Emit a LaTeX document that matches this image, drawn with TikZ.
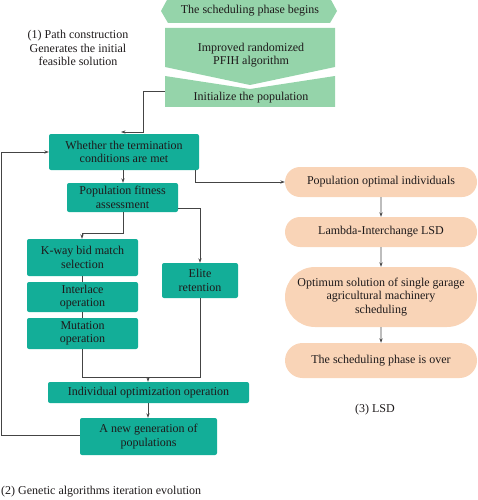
\documentclass[tikz,border=0pt]{standalone}
\usepackage{fontspec}
\setmainfont{Liberation Serif}
\usetikzlibrary{arrows.meta,shapes.misc}
\definecolor{teal1}{HTML}{13AE98}
\definecolor{green1}{HTML}{95D4AA}
\definecolor{peach}{HTML}{F9D4B7}
\definecolor{ink}{HTML}{1E1A1B}
\definecolor{wire}{HTML}{444444}
\tikzset{
  txt/.style={font=\fontsize{12}{13.4}\selectfont, text=ink, align=center, inner sep=0pt},
  tbox/.style={txt, fill=teal1, rounded corners=2pt, minimum width=#1},
  pbox/.style={txt, fill=peach, rounded rectangle, minimum width=192pt},
  conn/.style={draw=wire, line width=0.7pt},
  arr/.style={conn, -{Stealth[length=4.5pt,width=3.2pt]}},
}
\begin{document}
\begin{tikzpicture}[x=1pt,y=-1pt]
\useasboundingbox (0,0) rectangle (478,500);
% top green shapes
\fill[green1] (168,-2) -- (161,11) -- (168,23) -- (330,23) -- (337,11) -- (330,-2) -- cycle;
\node[txt] (begin) at (250,11) {The scheduling phase begins};
\fill[green1] (165,28) -- (335,28) -- (335,67) -- (250,85) -- (165,67) -- cycle;
\node[txt] (pfih) at (251,55) {Improved randomized\\PFIH algorithm};
\fill[green1] (165,76) -- (250,89) -- (335,76) -- (335,107) -- (165,107) -- cycle;
\coordinate (initw) at (165,91);
\node[txt] (init) at (251,98) {Initialize the population};
% label 1
\node[txt] (lab1) at (78,48) {(1) Path construction\\Generates the initial\\feasible solution};
% teal boxes
\node[tbox=150pt, minimum height=36pt] (whether) at (124,152) {Whether the termination\\conditions are met};
\node[tbox=111pt, minimum height=29pt] (fitness) at (122.5,197.5) {Population fitness\\assessment};
\node[tbox=111pt, minimum height=37pt] (kway) at (82.5,257.5) {K-way bid match\\selection};
\node[tbox=111pt, minimum height=30pt] (inter) at (82.5,297) {Interlace\\operation};
\node[tbox=111pt, minimum height=31pt] (mut) at (82.5,333.5) {Mutation\\operation};
\node[tbox=76pt, minimum height=35pt] (elite) at (200,280.5) {Elite\\retention};
\node[tbox=201pt, minimum height=21pt] (indiv) at (148.5,392.5) {Individual optimization operation};
\node[tbox=137pt, minimum height=37pt] (newgen) at (148.5,436.5) {A new generation of\\populations};
% peach boxes
\node[pbox, minimum height=30pt] (popopt) at (381,182) {Population optimal individuals};
\node[pbox, minimum height=30pt] (lambda) at (381,232) {Lambda-Interchange LSD};
\node[pbox, minimum height=60pt] (optimum) at (381,297) {Optimum solution of single garage\\agricultural machinery\\scheduling};
\node[pbox, minimum height=35pt] (over) at (381,360.5) {The scheduling phase is over};
% labels
\node[txt, anchor=west] (lab2) at (1,492) {(2) Genetic algorithms iteration evolution};
\node[txt] (lab3) at (375,410) {(3) LSD};
% connectors
\coordinate (inite) at (121,132);
\draw[arr] (initw) -| (143,132) -- (inite);
\draw[arr] (newgen.west |- 0,435) -- (1,435) |- (whether.west);
\draw[arr] (whether.south -| 123,0) -- (fitness.north -| 123,0);
\draw[arr] (whether.south -| 195,0) |- (popopt.west);
\draw[arr] (fitness.south -| 123,0) |- (82,233) -- (kway.north -| 82,0);
\draw[arr] (fitness.east |- 0,208) -| (elite.north);
\draw[conn] (kway.south -| 82,0) -- (inter.north -| 82,0);
\draw[conn] (inter.south -| 82,0) -- (mut.north -| 82,0);
\draw[conn] (mut.south -| 82,0) |- (200,377) -- (elite.south);
\draw[arr] (148,377) -- (indiv.north -| 148,0);
\draw[arr] (indiv.south -| 148,0) -- (newgen.north -| 148,0);
\draw[arr] (popopt) -- (lambda);
\draw[arr] (lambda) -- (optimum);
\draw[arr] (optimum) -- (over);
\end{tikzpicture}
\end{document}
